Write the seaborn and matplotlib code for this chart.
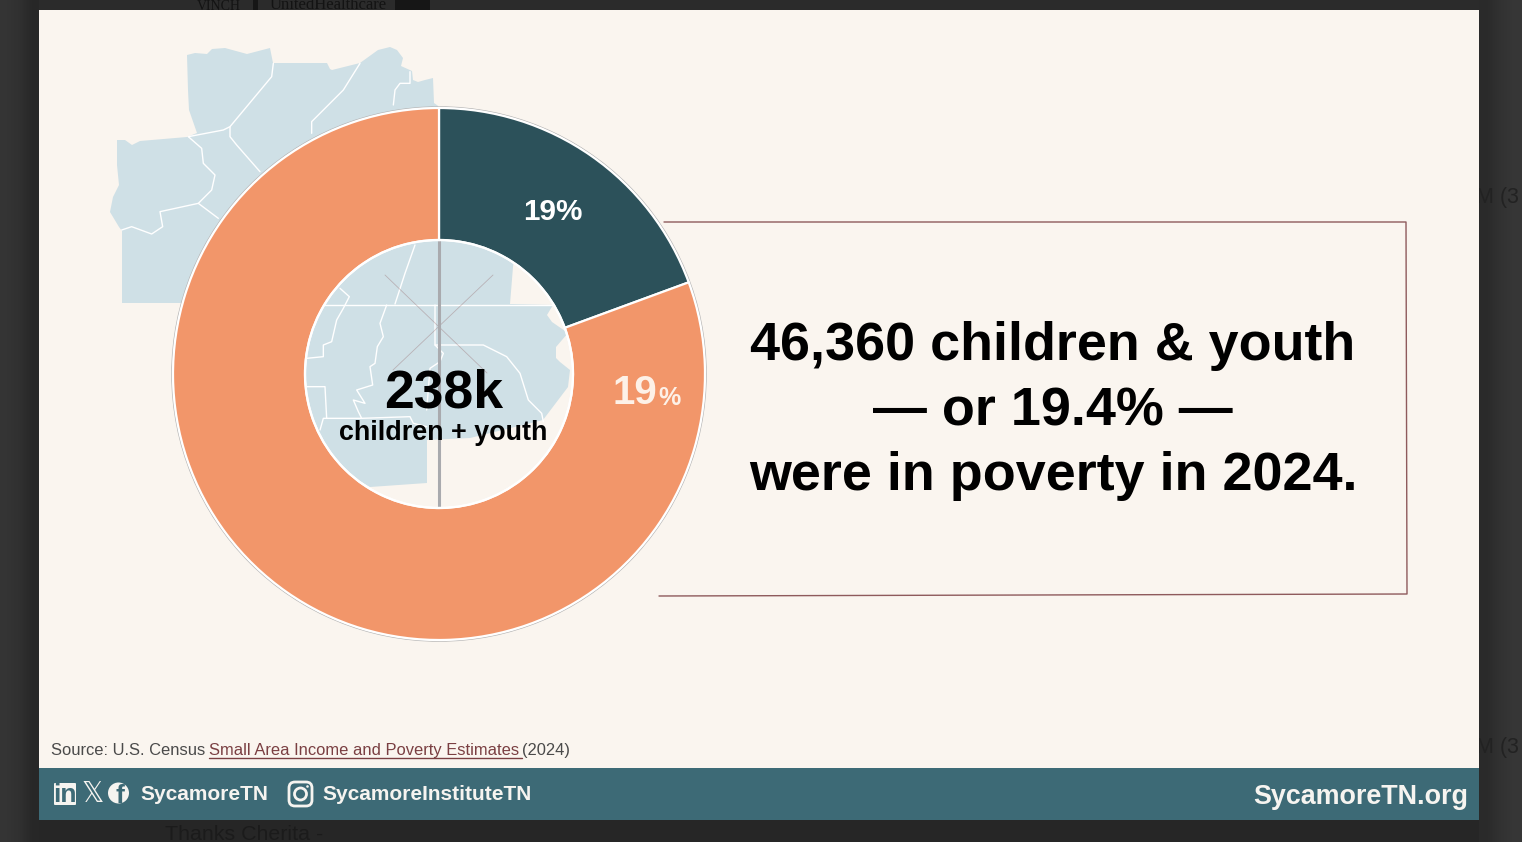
import matplotlib
matplotlib.use("Agg")
import matplotlib.pyplot as plt
from matplotlib.patches import Polygon, Rectangle, Circle, FancyBboxPatch
import seaborn as sns

# ---- data ----
categories = ["In poverty", "Not in poverty"]
shares = [19.4, 80.6]
center_value = "238k"
center_label = "children + youth"
share_labels = ["19%", "19"]
headline = ["46,360 children & youth", "\u2014 or 19.4% \u2014", "were in poverty in 2024."]

sns.set_theme(style="white")
plt.rcParams['font.family'] = ['Liberation Sans', 'DejaVu Sans']
palette = sns.color_palette(["#2c515a", "#f2966a"])

PAGE, CARD, BAND, MAP = "#2b2b2b", "#faf5ef", "#3d6a76", "#cfe0e6"
RULE = "#8e5a5c"

fig = plt.figure(figsize=(15.22, 8.42), dpi=100, facecolor=PAGE)
ax = fig.add_axes([0, 0, 1, 1])

# page shading around the slide
ax.add_patch(Rectangle((0, 0), 1522, 842, fc=PAGE, ec="none", zorder=0.01))
ax.add_patch(Rectangle((39, 820), 1440, 22, fc="#262626", ec="none", zorder=0.02))
ax.imshow([[[0.205]*3, [0.19]*3, [0.155]*3]], extent=(0, 39, 842, 0), aspect="auto",
          interpolation="bilinear", zorder=0.03)
ax.imshow([[[0.165]*3, [0.195]*3, [0.215]*3]], extent=(1479, 1522, 842, 0), aspect="auto",
          interpolation="bilinear", zorder=0.03)

# card / band
ax.add_patch(Rectangle((39, 10), 1440, 758, fc=CARD, ec="none", zorder=0.1))
ax.add_patch(Rectangle((39, 768), 1440, 52, fc=BAND, ec="none", zorder=0.1))

# background map (decorative geometry in pixel space)
outline = [(122,303),(122,231),(119,227),(110,212),(113,197),(119,185),(117,165),(117,140),(125,140),(132,145),(140,141),
 (187,137),(197,133),(189,110),(188,90),(187,55),(195,53),(207,54),(212,49),(225,48),(247,54),(270,48),(273,63),
 (327,63),(330,69),(332,70),(360,63),(378,50),(390,47),(397,50),(403,58),(401,66),(412,71),(413,80),(418,82),(425,80),(433,78),(434,103),
 (500,150),(516,245),(513,267),(510,304),(553,305),(547,315),(552,322),(568,333),(556,347),(556,358),(560,362),(570,370),(568,387),
 (543,420),(470,438),(427,440),(427,483),(370,487),(340,470),(300,420),(300,303)]
ax.add_patch(Polygon(outline, closed=True, fc=MAP, ec="none", zorder=0.5))

def zoom1(p): return [(100 + x/3, 30 + y/3) for x, y in p]
def zoom2(p): return [(290 + x/3, 230 + y/3) for x, y in p]
county_lines = [
 zoom1([(520,100),(515,140),(390,290),(370,300),(265,320)]),
 zoom1([(390,290),(390,320),(410,345),(480,425)]),
 zoom1([(780,100),(730,180),(635,275),(635,310)]),
 zoom1([(265,320),(305,355),(310,400),(345,435),(335,480),(295,520),(180,545),(188,590),(155,612),(95,590),(65,600)]),
 zoom1([(295,520),(355,565)]),
 zoom1([(930,125),(930,160),(900,160),(885,180),(880,225)]),
 zoom2([(375,45),(345,130),(315,222)]),
 zoom2([(105,225),(790,225)]),
 zoom2([(150,175),(178,200),(160,235),(140,270),(125,335),(100,345),(100,380),(50,385)]),
 zoom2([(290,225),(270,280),(280,320),(262,350),(255,400),(240,410),(248,465),(200,480),(225,520),(190,510),(205,545),(215,565),(100,565),(90,600)]),
 zoom2([(50,470),(105,470),(110,565)]),
 zoom2([(435,225),(435,345),(460,370),(450,395),(420,415),(410,540)]),
 zoom2([(435,345),(580,345),(650,380),(690,430),(715,510),(755,550),(760,575)]),
 zoom2([(215,565),(360,560),(370,580),(410,590)]),
]
for seg in county_lines:
    ax.plot(*zip(*seg), color="white", lw=1.0, zorder=0.6, solid_joinstyle="round")

# faint artefacts in the hole
ax.plot([385,487],[275,373], color=RULE, lw=0.6, alpha=0.35, zorder=0.7)
ax.plot([493,393],[275,370], color=RULE, lw=0.6, alpha=0.35, zorder=0.7)
ax.plot([439,439],[240,507], color="#a9aaae", lw=2.2, zorder=0.8)

# thin grey rim, then the donut
ax.add_patch(Circle((439,374), 267.2, fc="none", ec="#b5b5b5", lw=0.8, zorder=0.9))
ax.pie(shares, colors=palette, startangle=-90, counterclock=True, center=(439,374), radius=266,
       wedgeprops=dict(width=132, edgecolor="white", linewidth=1.6, zorder=1), frame=False)
ax.add_patch(Circle((439,374), 134, fc="none", ec="white", lw=1.6, zorder=1.1))

ax.set_xlim(0, 1522); ax.set_ylim(842, 0); ax.set_aspect("auto")
ax.set_xticks([]); ax.set_yticks([]); ax.set_axis_off()

# donut text
ax.text(553, 212, share_labels[0], color="white", fontsize=21.3, fontweight="bold", ha="center", va="center", zorder=5)
ax.text(657, 393, share_labels[1], color="#fdf1e8", fontsize=29, fontweight="bold", ha="right", va="center", zorder=5)
ax.text(658, 398, "%", color="#fdf1e8", fontsize=18, fontweight="bold", ha="left", va="center", zorder=5)
ax.text(444, 393, center_value, color="black", fontsize=38.5, fontweight="bold", ha="center", va="center", zorder=5)
ax.text(443, 433, center_label, color="black", fontsize=19.4, fontweight="bold", ha="center", va="center", zorder=5)

# callout box
ax.plot([664,1406,1407,659],[222,222,594,596], color=RULE, lw=1.0, zorder=2)
for y, line in zip([346, 411, 476], headline):
    ax.text(1053, y, line, color="black", fontsize=38.8, fontweight="bold", ha="center", va="center", zorder=5)

# source
GREY, LINK = "#4a4a4a", "#7a3f42"
ax.text(51, 755, "Source: U.S. Census", color=GREY, fontsize=11.9, va="baseline", zorder=5)
ax.text(209, 755, "Small Area Income and Poverty Estimates", color=LINK, fontsize=11.9, va="baseline", zorder=5)
ax.plot([209,522],[757.5,757.5], color=LINK, lw=1.0, zorder=5)
ax.text(522, 755, "(2024)", color=GREY, fontsize=11.9, va="baseline", zorder=5)

# footer
W = "#f6f4f0"
ax.text(140, 794, "SycamoreTN", color=W, fontsize=15, fontweight="bold", va="center", zorder=5)
ax.text(322, 794, "SycamoreInstituteTN", color=W, fontsize=15, fontweight="bold", va="center", zorder=5)
ax.text(1468, 797, "SycamoreTN.org", color=W, fontsize=19.4, fontweight="bold", ha="right", va="center", zorder=5)

# icons
ax.add_patch(FancyBboxPatch((54,783), 22, 22, boxstyle="round,pad=0,rounding_size=1", fc=W, ec="none", zorder=5))
ax.text(65, 795, "in", color=BAND, fontsize=19, fontweight="bold", ha="center", va="center", zorder=6)
ax.text(92.5, 794, "\U0001D54F", color=W, fontsize=20, ha="center", va="center", family="DejaVu Sans", zorder=5)
ax.add_patch(Circle((118.5,793), 10.5, fc=W, ec="none", zorder=5))
ax.text(120, 796, "f", color=BAND, fontsize=19, fontweight="bold", ha="center", va="center", zorder=6)
ax.add_patch(FancyBboxPatch((289,782), 23, 24, boxstyle="round,pad=0,rounding_size=6", fc="none", ec=W, lw=2, zorder=5))
ax.add_patch(Circle((300.5,794), 6, fc="none", ec=W, lw=2, zorder=5))
ax.add_patch(Circle((307.5,786.5), 1.3, fc=W, ec="none", zorder=5))

# what shows behind the slide
ghost = "#1b1b1b"
ax.text(165, 834, "Thanks Cherita -", color=ghost, fontsize=15.4, va="center", zorder=0.2)
ax.text(1519, 198, "M (3", color="#222222", fontsize=15.5, ha="right", va="center", zorder=0.05)
ax.text(1519, 747, "M (3", color="#222222", fontsize=15.5, ha="right", va="center", zorder=0.05)
ax.text(270, 5, "UnitedHealthcare", color="#131313", fontsize=12, va="center", family="Liberation Serif", zorder=0.06)
ax.text(197, 6, "VINCH", color="#131313", fontsize=10, va="center", family="Liberation Serif", zorder=0.06)
ax.add_patch(Rectangle((253, 0), 5, 10, fc="#161616", ec="none", zorder=0.06))
ax.add_patch(Rectangle((395, 0), 35, 10, fc="#161616", ec="none", zorder=0.06))

fig.savefig("out.png", dpi=100, facecolor=PAGE)
